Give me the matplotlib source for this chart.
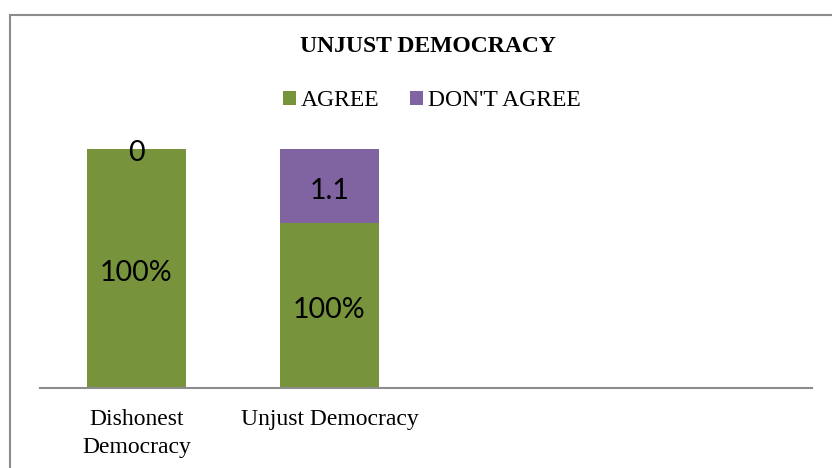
import matplotlib
matplotlib.use("Agg")
import matplotlib.pyplot as plt
from matplotlib.patches import Rectangle

# Data
categories = ["Dishonest\nDemocracy", "Unjust Democracy", "", ""]
agree_share = [100, 69]        # height of AGREE segment (% of stack)
disagree_share = [0, 31]       # height of DON'T AGREE segment (% of stack)
agree_labels = ["100%", "100%"]
disagree_labels = ["0", "1.1"]
series_names = ["AGREE", "DON'T AGREE"]

GREEN = "#77933C"
PURPLE = "#8064A2"
SERIF = "Liberation Serif"
LABEL_FONT = "Lato"

fig = plt.figure(figsize=(8.32, 4.68), dpi=100)
ax = fig.add_axes([40/832, 1-388/468, (812-40)/832, (388-149)/468])

x = list(range(len(categories)))
n = len(agree_share)
bw = 0.51
b1 = ax.bar(x[:n], agree_share, width=bw, color=GREEN, label=series_names[0])
b2 = ax.bar(x[:n], disagree_share, width=bw, bottom=agree_share, color=PURPLE,
            label=series_names[1])

for i in range(n):
    ax.annotate(agree_labels[i], (x[i], agree_share[i] / 2), xytext=(0, -3.5),
                textcoords="offset points", ha="center", va="center",
                fontsize=20.5, family=LABEL_FONT, color="black")
    if disagree_share[i] > 0:
        ypos = agree_share[i] + disagree_share[i] / 2
    else:
        ypos = agree_share[i] + 0.5
    ax.annotate(disagree_labels[i], (x[i], ypos), xytext=(0, -3.5),
                textcoords="offset points", ha="center", va="center",
                fontsize=20.5, family=LABEL_FONT, color="black",
                annotation_clip=False)

ax.set_xlim(-0.5, len(categories) - 0.5)
ax.set_ylim(0, 100)
ax.set_xticks(x)
ax.set_xticklabels(categories, family=SERIF, fontsize=17, linespacing=1.45)
ax.tick_params(axis="x", length=0, pad=15)
ax.set_yticks([])
for s in ["top", "right", "left"]:
    ax.spines[s].set_visible(False)
ax.spines["bottom"].set_color("#8c8c8c")
ax.spines["bottom"].set_linewidth(1.5)

fig.text(428/832, 1-46/468, "UNJUST DEMOCRACY", ha="center", va="center",
         family=SERIF, fontsize=17, fontweight="bold")

leg = fig.legend(handles=[b1, b2], labels=series_names, loc="center",
                 bbox_to_anchor=(432/832, 1-101/468), ncol=2, frameon=False,
                 prop={"family": SERIF, "size": 17}, handlelength=0.55,
                 handleheight=0.55, handletextpad=0.2, columnspacing=1.3)

fig.patches.append(Rectangle((10/832, -0.1), 1.2, 1-15/468 + 0.1,
                             transform=fig.transFigure, fill=False,
                             edgecolor="#8c8c8c", linewidth=1.5))

fig.savefig("out.png", dpi=100)
